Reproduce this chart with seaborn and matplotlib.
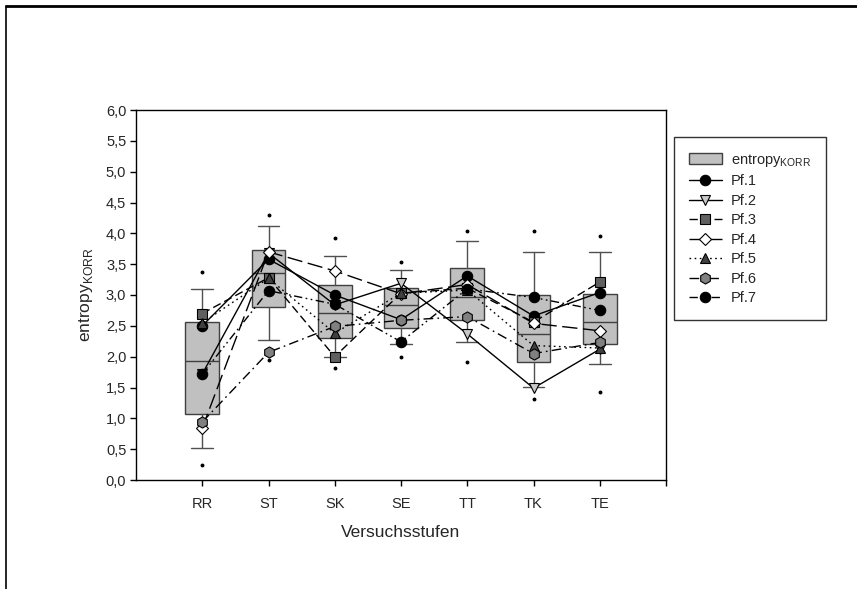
import matplotlib
matplotlib.use("Agg")
import matplotlib.pyplot as plt
import seaborn as sns
import pandas as pd
from matplotlib.lines import Line2D
from matplotlib.patches import Patch

# ---- data ----
stages = ["RR", "ST", "SK", "SE", "TT", "TK", "TE"]

# box statistics (SigmaPlot style: box 25-75 %, whiskers 10-90 %, dots 5/95 %)
box_q1 = [1.07, 2.80, 2.31, 2.46, 2.59, 1.91, 2.21]
box_med = [1.93, 3.35, 2.71, 2.84, 2.97, 2.36, 2.57]
box_q3 = [2.57, 3.73, 3.16, 3.12, 3.43, 3.00, 3.02]
whisk_lo = [0.52, 2.27, 2.00, 2.20, 2.23, 1.51, 1.88]
whisk_hi = [3.10, 4.12, 3.63, 3.41, 3.88, 3.69, 3.70]
out_lo = [0.24, 1.95, 1.82, 1.99, 1.92, 1.32, 1.43]
out_hi = [3.37, 4.30, 3.93, 3.54, 4.04, 4.04, 3.96]

pf1 = [2.50, 3.58, 3.00, 2.60, 3.31, 2.66, 3.04]
pf2 = [1.72, 3.68, 2.84, 3.19, 2.37, 1.49, 2.12]
pf3 = [2.70, 3.28, 2.00, 3.03, 3.11, 2.56, 3.21]
pf4 = [0.84, 3.70, 3.39, 3.02, 3.17, 2.54, 2.42]
pf5 = [2.55, 3.27, 2.38, 3.03, 3.08, 2.18, 2.14]
pf6 = [0.94, 2.07, 2.49, 2.59, 2.65, 2.05, 2.23]
pf7 = [1.72, 3.07, 2.85, 2.24, 3.10, 2.96, 2.75]

series_names = ["Pf.1", "Pf.2", "Pf.3", "Pf.4", "Pf.5", "Pf.6", "Pf.7"]
series_vals = [pf1, pf2, pf3, pf4, pf5, pf6, pf7]

y_ticks = [0.0, 0.5, 1.0, 1.5, 2.0, 2.5, 3.0, 3.5, 4.0, 4.5, 5.0, 5.5, 6.0]

# ---- styles ----
sns.set_style("ticks")
plt.rcParams["font.family"] = ["Liberation Sans", "DejaVu Sans"]
plt.rcParams["mathtext.fontset"] = "custom"
plt.rcParams["mathtext.rm"] = "Liberation Sans"

styles = {
    "Pf.1": dict(marker="o", mfc="black", ls="-"),
    "Pf.2": dict(marker="v", mfc="#c8c8c8", ls="-"),
    "Pf.3": dict(marker="s", mfc="#606060", ls=(0, (6, 3))),
    "Pf.4": dict(marker="D", mfc="white", ls=(0, (11, 4))),
    "Pf.5": dict(marker="^", mfc="#404040", ls=(0, (1.2, 2.5))),
    "Pf.6": dict(marker="h", mfc="#808080", ls=(0, (7, 3, 1.2, 3))),
    "Pf.7": dict(marker="o", mfc="black", ls=(0, (6, 2.5, 1.2, 2.5, 1.2, 2.5))),
}
msizes = {"o": 7.5, "v": 7.5, "s": 6.5, "D": 6.5, "^": 7.5, "h": 8}

fig = plt.figure(figsize=(8.57, 5.89), dpi=100)
ax = fig.add_axes([136 / 857, 1 - 480 / 589, (666 - 136) / 857, (480 - 110) / 589])

positions = list(range(1, len(stages) + 1))
stats = []
for i, s in enumerate(stages):
    stats.append(dict(label=s, q1=box_q1[i], med=box_med[i], q3=box_q3[i],
                      whislo=whisk_lo[i], whishi=whisk_hi[i],
                      fliers=[out_lo[i], out_hi[i]]))
ax.bxp(stats, positions=positions, widths=0.51, patch_artist=True,
       boxprops=dict(facecolor="#c0c0c0", edgecolor="#404040", linewidth=1.0),
       medianprops=dict(color="#404040", linewidth=1.0),
       whiskerprops=dict(color="#505050", linewidth=1.0),
       capprops=dict(color="#505050", linewidth=1.0),
       capwidths=0.33,
       flierprops=dict(marker="o", markersize=1.8, markerfacecolor="black",
                       markeredgecolor="black"),
       zorder=1)

for name, vals in zip(series_names, series_vals):
    st = styles[name]
    df = pd.DataFrame({"x": positions, "y": vals})
    sns.lineplot(data=df, x="x", y="y", ax=ax, color="black", linewidth=1.0,
                 linestyle=st["ls"], marker=st["marker"],
                 markersize=msizes[st["marker"]], markerfacecolor=st["mfc"],
                 markeredgecolor="black", markeredgewidth=0.8, zorder=3,
                 legend=False)

ax.set_xlim(0, 8)
ax.set_ylim(0, 6)
ax.set_xticks(list(range(1, 9)))
ax.set_xticklabels(stages + [""])
ax.set_yticks(y_ticks)
ax.set_yticklabels([f"{v:.1f}".replace(".", ",") for v in y_ticks])
ax.tick_params(axis="both", labelsize=10.5, length=4, width=1, color="black",
               direction="out", pad=3)
ax.tick_params(axis="x", pad=8)
for sp in ax.spines.values():
    sp.set_visible(True)
    sp.set_linewidth(1.0)
    sp.set_color("black")
ax.set_xlabel("Versuchsstufen", fontsize=12.5, labelpad=10)
ax.set_ylabel(r"entropy$_{\mathrm{KORR}}$", fontsize=12.5, labelpad=8)

handles = [Patch(facecolor="#c0c0c0", edgecolor="#404040", linewidth=1.0)]
labels = [r"entropy$_{\mathrm{KORR}}$"]
for name in series_names:
    st = styles[name]
    handles.append(Line2D([0], [0], color="black", linewidth=1.0, linestyle=st["ls"],
                          marker=st["marker"], markersize=msizes[st["marker"]],
                          markerfacecolor=st["mfc"], markeredgecolor="black",
                          markeredgewidth=0.8))
    labels.append(name)
leg = fig.legend(handles, labels, loc="upper left",
                 bbox_to_anchor=(674 / 857, 1 - 137 / 589), borderaxespad=0,
                 frameon=True, fancybox=False, edgecolor="black", fontsize=10.5,
                 handlelength=2.3, borderpad=1.0, labelspacing=0.38,
                 handletextpad=0.6)
leg.get_frame().set_linewidth(1.0)

# outer page frame (top and left edges)
fig.add_artist(Line2D([6 / 857, 1.0], [1 - 6 / 589, 1 - 6 / 589],
                      transform=fig.transFigure, color="black", linewidth=2.0))
fig.add_artist(Line2D([6 / 857, 6 / 857], [0.0, 1 - 6 / 589],
                      transform=fig.transFigure, color="black", linewidth=1.2))

fig.savefig("out.png", dpi=100)
